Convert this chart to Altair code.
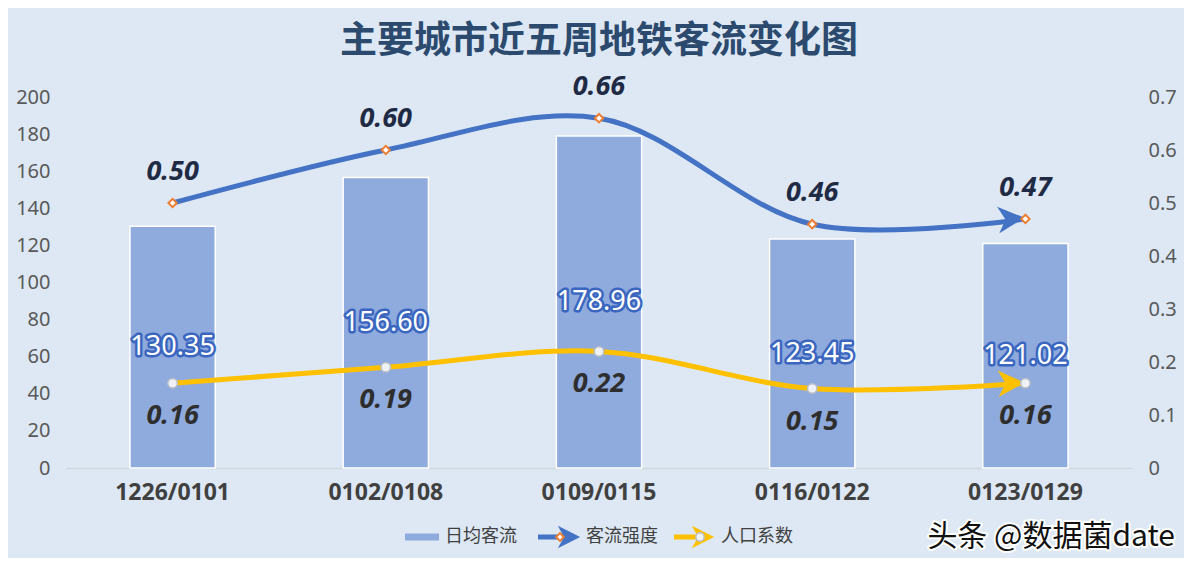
import altair as alt
import pandas as pd

weeks = ["1226/0101", "0102/0108", "0109/0115", "0116/0122", "0123/0129"]
daily_flow = [130.35, 156.60, 178.96, 123.45, 121.02]
flow_intensity = [0.50, 0.60, 0.66, 0.46, 0.47]
pop_coef = [0.16, 0.19, 0.22, 0.15, 0.16]
left_ticks = [0, 20, 40, 60, 80, 100, 120, 140, 160, 180, 200]
right_ticks = [0, 0.1, 0.2, 0.3, 0.4, 0.5, 0.6, 0.7]
legend_labels = ["日均客流", "客流强度", "人口系数"]
title_text = "主要城市近五周地铁客流变化图"
watermark = "头条 @数据菌date"

df = pd.DataFrame({"week": weeks, "flow": daily_flow,
                   "intensity": flow_intensity, "pop": pop_coef})

W, H = 1066, 371
FONT = "Noto Sans"
CJK = "Noto Sans CJK SC"
BLUE = "#4472c4"
YEL = "#ffc000"
BAR = "#8faadc"
ARROW = "M-1,-1L1,0L-1,1L-0.45,0Z"

xenc = alt.X("week:N", sort=weeks,
             scale=alt.Scale(paddingInner=0.6, paddingOuter=0.3),
             axis=alt.Axis(title=None, labelAngle=0, labelFont=FONT, labelFontSize=23,
                           labelFontWeight="bold", labelColor="#404040", labelPadding=13,
                           ticks=False, domainColor="#cfd6de", domainWidth=1.5))
ys_left = alt.Scale(domain=[0, 200])
ys_right = alt.Scale(domain=[0, 0.7])

base = alt.Chart(df)

bars = base.mark_bar(color=BAR, stroke="white", strokeWidth=1.5).encode(
    x=xenc,
    y=alt.Y("flow:Q", scale=ys_left,
            axis=alt.Axis(title=None, values=left_ticks, grid=False, domain=False, ticks=False,
                          labelFont=FONT, labelFontSize=20, labelColor="#595959", labelPadding=16)))

bar_lab_o = base.transform_calculate(half="datum.flow/2").mark_text(
    font=FONT, fontSize=27, fill="#3a66c0", stroke="#3a66c0", strokeWidth=5, strokeJoin="round").encode(
    x=xenc, y=alt.Y("half:Q", scale=ys_left, axis=None), text=alt.Text("flow:Q", format=".2f"))
bar_lab = base.transform_calculate(half="datum.flow/2").mark_text(
    font=FONT, fontSize=27, fill="white").encode(
    x=xenc, y=alt.Y("half:Q", scale=ys_left, axis=None), text=alt.Text("flow:Q", format=".2f"))

line_b = base.mark_line(color=BLUE, strokeWidth=5, interpolate="catmull-rom").encode(
    x=xenc,
    y=alt.Y("intensity:Q", scale=ys_right,
            axis=alt.Axis(orient="right", title=None, values=right_ticks, grid=False, domain=False,
                          ticks=False, labelFont=FONT, labelFontSize=20, labelColor="#595959",
                          labelPadding=16,
                          labelExpr="datum.value == 0 ? '0' : format(datum.value, '.1f')")))
arrow_b = base.transform_filter(alt.datum.week == weeks[-1]).mark_point(
    shape=ARROW, size=700, filled=True, color=BLUE, opacity=1, angle=355, xOffset=-14).encode(
    x=xenc, y=alt.Y("intensity:Q", scale=ys_right, axis=None))
pts_b = base.mark_point(shape="diamond", size=70, filled=True, fill="white", stroke="#ed7d31",
                        strokeWidth=2, opacity=1).encode(
    x=xenc, y=alt.Y("intensity:Q", scale=ys_right, axis=None))
lab_b = base.mark_text(font=FONT, fontSize=27, fontStyle="italic", fontWeight="bold",
                       color="#1f2a44", dy=-31).encode(
    x=xenc, y=alt.Y("intensity:Q", scale=ys_right, axis=None),
    text=alt.Text("intensity:Q", format=".2f"))

line_y = base.mark_line(color=YEL, strokeWidth=5, interpolate="catmull-rom").encode(
    x=xenc, y=alt.Y("pop:Q", scale=ys_right, axis=None))
arrow_y = base.transform_filter(alt.datum.week == weeks[-1]).mark_point(
    shape=ARROW, size=700, filled=True, color=YEL, opacity=1, angle=358, xOffset=-14).encode(
    x=xenc, y=alt.Y("pop:Q", scale=ys_right, axis=None))
pts_y = base.mark_point(shape="circle", size=90, filled=True, fill="#eef1f5", stroke="#b8bec6",
                        strokeWidth=1.5, opacity=1).encode(
    x=xenc, y=alt.Y("pop:Q", scale=ys_right, axis=None))
lab_y = base.mark_text(font=FONT, fontSize=27, fontStyle="italic", fontWeight="bold",
                       color="#2e2e2e", dy=33).encode(
    x=xenc, y=alt.Y("pop:Q", scale=ys_right, axis=None),
    text=alt.Text("pop:Q", format=".2f"))

# legend (manual)
LY = 440
leg = []
for i, lab in enumerate(legend_labels):
    d = alt.Chart(pd.DataFrame({"t": [lab]}))
    tx = [379, 520, 655][i]
    leg.append(d.mark_text(font=CJK, fontSize=18, color="#404040", align="left").encode(
        x=alt.value(tx), y=alt.value(LY), text="t:N"))
ld = alt.Chart(pd.DataFrame({"t": legend_labels[:1]}))
leg.append(ld.mark_rule(color=BAR, strokeWidth=7).encode(
    x=alt.value(339), x2=alt.value(373), y=alt.value(LY)))
leg.append(ld.mark_rule(color=BLUE, strokeWidth=5).encode(
    x=alt.value(472), x2=alt.value(500), y=alt.value(LY)))
leg.append(ld.mark_point(shape=ARROW, size=500, filled=True, color=BLUE, opacity=1).encode(
    x=alt.value(503), y=alt.value(LY)))
leg.append(ld.mark_point(shape="diamond", size=60, filled=True, fill="white", stroke="#ed7d31",
                         strokeWidth=2, opacity=1).encode(x=alt.value(494), y=alt.value(LY)))
leg.append(ld.mark_rule(color=YEL, strokeWidth=5).encode(
    x=alt.value(608), x2=alt.value(632), y=alt.value(LY)))
leg.append(ld.mark_point(shape=ARROW, size=500, filled=True, color=YEL, opacity=1).encode(
    x=alt.value(637), y=alt.value(LY)))
leg.append(ld.mark_point(shape="circle", size=70, filled=True, fill="#eef1f5", stroke="#b8bec6",
                         strokeWidth=1.5, opacity=1).encode(x=alt.value(634), y=alt.value(LY)))

wm = alt.Chart(pd.DataFrame({"t": [watermark]}))
wm_o = wm.mark_text(font=CJK, fontSize=30, align="right", fill="white", stroke="white",
                    strokeWidth=4, strokeJoin="round").encode(
    x=alt.value(1109), y=alt.value(LY), text="t:N")
wm_t = wm.mark_text(font=CJK, fontSize=30, align="right", fill="#111111").encode(
    x=alt.value(1109), y=alt.value(LY), text="t:N")

chart = alt.layer(
    bars, bar_lab_o, bar_lab, line_b, arrow_b, pts_b, lab_b,
    line_y, arrow_y, pts_y, lab_y, *leg, wm_o, wm_t
).resolve_scale(y="independent").properties(
    width=W, height=H,
    autosize="none",
    padding={"left": 58, "top": 89, "right": 52, "bottom": 90},
    title=alt.TitleParams(text=title_text, font=CJK, fontSize=37, fontWeight="bold",
                          color="#2c4a6e", anchor="middle", offset=12),
).configure(background="#dde8f4").configure_view(stroke=None)

chart.save("out.html", embed_options={"renderer": "svg", "actions": False})
